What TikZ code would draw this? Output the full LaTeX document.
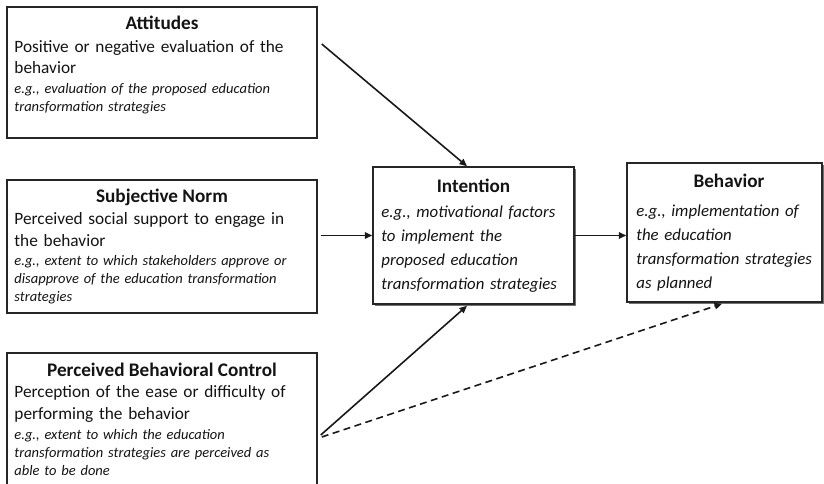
\documentclass[tikz,border=0pt]{standalone}
\usepackage{fontspec}
\setmainfont{Carlito}
\usetikzlibrary{arrows.meta,calc,shadows}

\tikzset{
  box/.style={draw=black!85, line width=1.5pt, fill=white, inner sep=0pt, minimum width=#1},
  shadowbox/.style={box=#1, drop shadow={shadow xshift=1.6pt, shadow yshift=-1.6pt, fill=black!55, opacity=1}},
  titletext/.style={inner sep=0pt, anchor=base, font=\fontsize{19.2}{22}\selectfont\bfseries, text=black!92},
  bodytext/.style={inner sep=0pt, anchor=base west, text width=#1, align=left,
    font=\fontsize{17.3}{21.5}\selectfont, text=black!92},
  exampletext/.style={inner sep=0pt, anchor=base west, text width=#1, align=left,
    font=\fontsize{14.5}{18}\selectfont\itshape, text=black!92},
  boldtext/.style={inner sep=0pt, anchor=base west, text width=#1, align=left,
    font=\fontsize{16.8}{24}\selectfont\itshape, text=black!92},
  arr/.style={line width=1.6pt, draw=black!90, -{Triangle[length=7.5pt,width=6.5pt]}},
  dasharr/.style={arr, dash pattern=on 7pt off 4.5pt},
}

\begin{document}
\begin{tikzpicture}[x=1pt, y=-1pt]
  \clip (0,0) rectangle (824,484);

  % three determinant boxes on the left
  \node[box=310pt, minimum height=131pt] (att) at (162,72.5) {};
  \node[box=310pt, minimum height=133pt] (sn)  at (162,246.5) {};
  \node[box=310pt, minimum height=147pt] (pbc) at (162,426.5) {};

  % intention and behaviour boxes
  \node[shadowbox=201pt, minimum height=137pt] (int) at (473.5,235.5) {};
  \node[shadowbox=195pt, minimum height=139pt] (beh) at (724.5,232.5) {};

  % Attitudes
  \node[titletext] (att-t) at ([shift={(0,23.5)}]att.north) {Attitudes};
  \node[bodytext=300pt] (att-b) at ([shift={(8,46)}]att.north west)
    {Positive or negative evaluation of the\\behavior};
  \node[exampletext=300pt] (att-e) at ([shift={(8,87.5)}]att.north west)
    {e.g., evaluation of the proposed education\\transformation strategies};

  % Subjective Norm
  \node[titletext] (sn-t) at ([shift={(0,23.5)}]sn.north) {Subjective Norm};
  \node[bodytext=300pt] (sn-b) at ([shift={(8,45.5)}]sn.north west)
    {Perceived social support to engage in\\the behavior};
  \node[exampletext=300pt] (sn-e) at ([shift={(8,86.5)}]sn.north west)
    {e.g., extent to which stakeholders approve or\\disapprove of the education transformation\\strategies};

  % Perceived Behavioral Control
  \node[titletext] (pbc-t) at ([shift={(0,24)}]pbc.north) {Perceived Behavioral Control};
  \node[bodytext=300pt] (pbc-b) at ([shift={(8,45.5)}]pbc.north west)
    {Perception of the ease or difficulty of\\performing the behavior};
  \node[exampletext=300pt] (pbc-e) at ([shift={(8,87)}]pbc.north west)
    {e.g., extent to which the education\\transformation strategies are perceived as\\able to be done};

  % Intention
  \node[titletext] (int-t) at ([shift={(0,26.5)}]int.north) {Intention};
  \node[boldtext=190pt] (int-b) at ([shift={(9,51)}]int.north west)
    {e.g., motivational factors\\to implement the\\proposed education\\transformation strategies};

  % Behavior
  \node[titletext] (beh-t) at ([shift={(4.5,25.5)}]beh.north) {Behavior};
  \node[boldtext=185pt] (beh-b) at ([shift={(10,54)}]beh.north west)
    {e.g., implementation of\\the education\\transformation strategies\\as planned};

  % connectors
  \draw[arr] ([shift={(4,-28.5)}]att.east) -- ([xshift=-6.5pt]int.north);
  \draw[arr] ($(sn.east |- int.west)+(3,0)$) -- (int.west);
  \draw[arr] ([shift={(3,8.5)}]pbc.east) -- ([xshift=-6.5pt,yshift=-1pt]int.south);
  \draw[arr] (int.east) -- (int.east -| beh.west);
  \draw[dasharr] ([shift={(4,10.5)}]pbc.east) -- ([xshift=-2.5pt,yshift=-1pt]beh.south);
\end{tikzpicture}
\end{document}
